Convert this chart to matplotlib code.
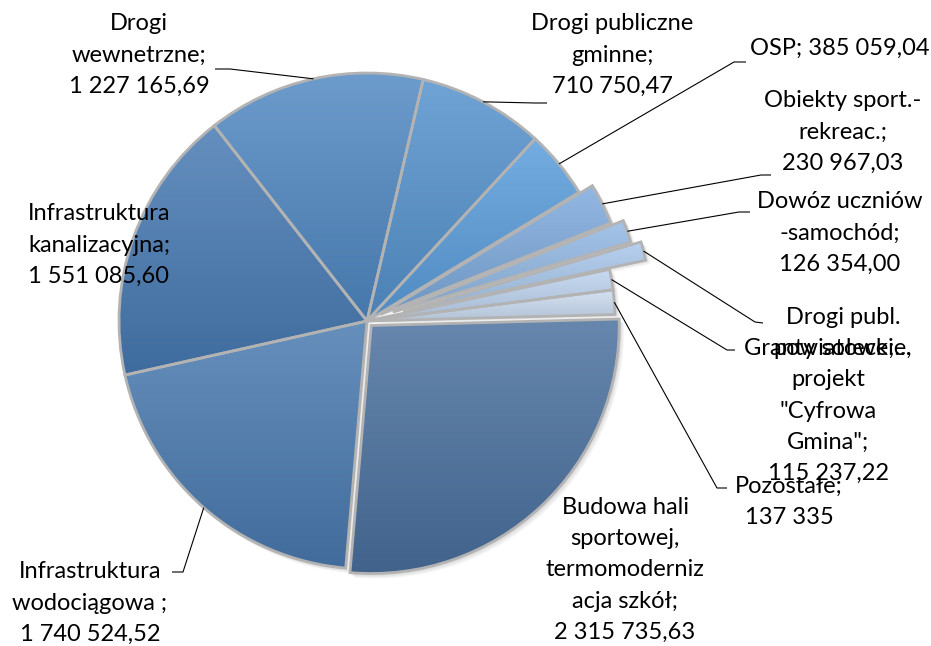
import numpy as np
import matplotlib
matplotlib.use('Agg')
import matplotlib.pyplot as plt
from matplotlib.patches import Wedge
from matplotlib.colors import to_rgb

plt.rcParams['font.family'] = ['Lato', 'DejaVu Sans']

# slices, clockwise from 3 o'clock
labels = ['Budowa hali\nsportowej,\ntermomoderniz\nacja szkół;\n2 315 735,63',
          'Infrastruktura\nwodociągowa ;\n1 740 524,52',
          'Infrastruktura\nkanalizacyjna;\n1 551 085,60',
          'Drogi\nwewnetrzne;\n1 227 165,69',
          'Drogi publiczne\ngminne;\n710 750,47',
          'OSP; 385 059,04',
          'Obiekty sport.-\nrekreac.;\n230 967,03',
          'Dowóz uczniów\n-samochód;\n126 354,00',
          'Drogi publ.\npowiatowe;...',
          'Granty sołeckie,\nprojekt\n"Cyfrowa\nGmina";\n115 237,22',
          'Pozostałe;\n137 335']
values = [2315735.63, 1740524.52, 1551085.60, 1227165.69, 710750.47,
          385059.04, 230967.03, 126354.00, 105000.00, 115237.22, 137335.00]
explode = [0.025, 0, 0, 0, 0, 0, 0.06, 0.11, 0.15, 0, 0]
colors = ['#4a709e', '#4a7ab0', '#477ab3', '#5088c2', '#5592cd', '#5a9ddb',
          '#7eaadd', '#93b9e4', '#a9c7eb', '#bdd3ef', '#ccddf2']

W, H = 931, 646
# label placement in pixels from top-left: (x, y, ha)
lab_pos = [(625, 570, 'center'), (90, 603, 'center'), (99, 245, 'center'),
           (139, 55, 'center'), (612, 55, 'center'), (929, 48, 'right'),
           (843, 132, 'center'), (840, 233, 'center'), (843, 333, 'center'),
           (828, 411, 'center'), (789, 502, 'center')]
# leader: elbow point and end point (pixels), None = no leader
leaders = [None, ((183, 572), (172, 572)), None,
           ((230, 69), (215, 69)), ((535, 103), (547, 103)),
           ((734, 62), (746, 62)), ((761, 175), (771, 175)),
           ((739, 212), (750, 212)), ((755, 322), (763, 323)),
           ((727, 350), (735, 350)), ((717, 488), (727, 488))]


def mix(c, t, amt):
    c = np.array(to_rgb(c))
    return c + (np.array(t) - c) * amt


fig = plt.figure(figsize=(W / 100, H / 100), dpi=100)
ax = fig.add_axes([0, 0, 1, 1])

R = 248
# pie explode is in data units, so scale by the radius
wedges, _ = ax.pie(values, explode=[e * R for e in explode], colors=colors,
                   startangle=1.5, counterclock=False, radius=R,
                   center=(367, H - 321), wedgeprops=dict(linewidth=0, zorder=2))

# soft shadow
for w in wedges:
    for k in range(1, 5):
        ax.add_patch(Wedge((w.center[0] + k, w.center[1] - k), w.r + 1,
                           w.theta1, w.theta2, color='black', alpha=0.035,
                           lw=0, zorder=1))

# vertical gradient inside every slice
g = np.linspace(0, 1, 200)[:, None]
for w, c in zip(wedges, colors):
    bb = w.get_path().get_extents()
    top = mix(c, (1, 1, 1), 0.16)
    bot = mix(c, (0, 0, 0), 0.12)
    img = top[None, None, :] * (1 - g[:, :, None]) + bot[None, None, :] * g[:, :, None]
    im = ax.imshow(img, extent=(bb.x0, bb.x1, bb.y0, bb.y1), origin='upper',
                   aspect='auto', interpolation='bilinear', zorder=2.5)
    im.set_clip_path(w)
    ax.add_patch(Wedge(w.center, w.r, w.theta1, w.theta2, fill=False,
                       ec='#b3b3b3', lw=2.0, zorder=3))

for w, lab, (lx, ly, ha), ld in zip(wedges, labels, lab_pos, leaders):
    ax.text(lx, H - ly, lab, ha=ha, va='center', multialignment='center',
            fontsize=17, linespacing=1.6, color='black', zorder=5)
    if ld is None:
        continue
    mid = np.deg2rad((w.theta1 + w.theta2) / 2)
    axp = w.center[0] + w.r * np.cos(mid)
    ayp = w.center[1] + w.r * np.sin(mid)
    (ex, ey), (sx, sy) = ld
    ax.plot([axp, ex, sx], [ayp, H - ey, H - sy], color='black', lw=0.8,
            zorder=4, solid_capstyle='butt')

ax.set_xlim(0, W)
ax.set_ylim(0, H)
ax.set_aspect('auto')
ax.axis('off')
fig.savefig('out.png', dpi=100)
